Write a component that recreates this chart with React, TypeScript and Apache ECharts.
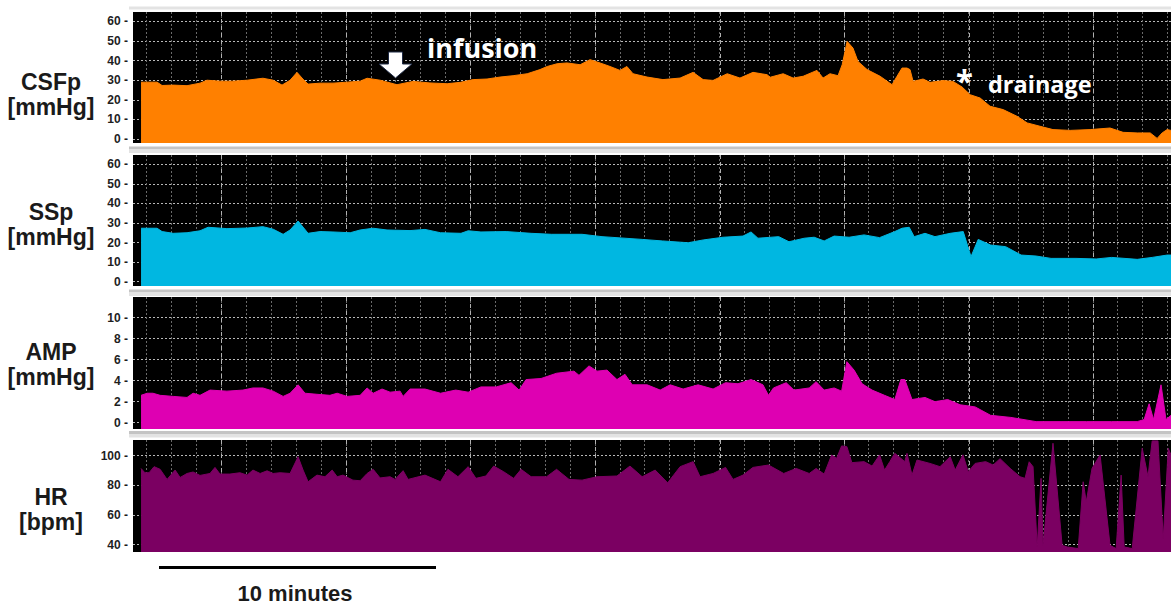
import React, { useEffect, useRef } from "react";
import * as echarts from "echarts";

// Time in minutes from the start of the recording, value per trace.
const csfT = [0, 0.58, 0.76, 1.16, 1.66, 2.13, 2.38, 2.85, 3.32, 3.83, 4.4, 4.77, 5.09, 5.38, 5.63, 5.85, 6.03, 6.46, 6.93, 7.44, 7.91, 8.16, 8.63, 9.24, 9.82, 10.43, 11.05, 11.52, 11.99, 12.49, 12.96, 13.43, 13.94, 14.4, 14.66, 15.02, 15.38, 15.85, 16.21, 16.57, 16.93, 17.29, 17.54, 17.76, 18.27, 18.84, 19.46, 19.93, 20.29, 20.65, 21.16, 21.62, 22.09, 22.6, 22.71, 23.18, 23.54, 23.9, 24.4, 24.62, 24.87, 25.16, 25.31, 25.49, 25.7, 25.88, 26.21, 26.68, 27.11, 27.29, 27.47, 27.65, 27.76, 27.87, 28.23, 28.48, 28.95, 29.31, 29.64, 29.93, 30.29, 30.65, 31.12, 31.62, 31.99, 32.45, 32.92, 33.54, 34.26, 34.98, 35.45, 35.96, 36.43, 36.68, 36.86, 37.04, 37.18];
const csfV = [29, 29, 27.3, 27.5, 27.2, 28.5, 30, 29.5, 29.5, 30, 31, 30, 27.5, 30, 34, 30.5, 28, 28.5, 28.5, 29, 29.5, 31, 30, 27.7, 29.4, 28.6, 28.2, 28.9, 30.3, 30.6, 31.6, 32.3, 33.3, 35.4, 37, 38.4, 38.8, 37.9, 40.5, 38.8, 37, 35, 37, 33.3, 31.6, 30.3, 31.1, 34, 30.3, 29.9, 33.3, 31.1, 34, 32.8, 31.5, 33.3, 31.1, 32, 35, 31.1, 33.3, 32.3, 37.9, 49.8, 46.4, 39.6, 35.4, 32, 27.7, 32, 36.2, 36.2, 35.4, 29.4, 30.6, 28.9, 29.8, 29.4, 26.5, 22.6, 20.9, 16.7, 15, 11.6, 8.2, 6.5, 4.8, 4.4, 4.8, 5.6, 3.4, 3.1, 3.1, 0.3, 3.1, 4.8, 4.4];

const ssT = [0, 0.58, 0.76, 1.16, 1.66, 2.13, 2.42, 3.1, 3.83, 4.4, 4.77, 5.13, 5.38, 5.67, 6.03, 6.46, 6.93, 7.55, 7.91, 8.38, 8.88, 9.71, 10.25, 10.81, 11.55, 11.81, 12.27, 13.18, 14.08, 14.82, 15.92, 16.64, 18.09, 18.83, 19.75, 20.29, 21.01, 21.73, 22.02, 22.27, 23.02, 23.39, 23.94, 24.3, 24.66, 25.02, 25.56, 26.1, 26.66, 27.21, 27.47, 27.73, 27.91, 28.3, 28.66, 29.21, 29.68, 29.96, 30.22, 30.67, 31.21, 31.77, 32.31, 32.85, 33.75, 34.48, 35.04, 35.96, 36.5, 37.04, 37.18];
const ssV = [27.3, 27.3, 25.6, 24.7, 25, 26, 27.8, 27.1, 27.4, 28.1, 26.8, 24.2, 26.4, 31, 24.7, 25.6, 25.4, 25, 26.4, 27.3, 26.4, 26.1, 26.7, 25, 24.7, 26, 25.4, 25.6, 24.7, 24.2, 24.2, 23, 21.6, 20.8, 19.9, 21.3, 22.7, 23.3, 25.4, 22.2, 23, 20.4, 22.2, 22.7, 20.8, 23.3, 22.7, 23.9, 22.5, 25.6, 27.3, 27.8, 23, 24.7, 23, 24.7, 25.6, 12.8, 21.6, 18.7, 17.9, 13.6, 13.1, 11.9, 11.9, 11.6, 12.4, 11.4, 12.4, 13.6, 13.6];

const ampT = [0, 0.22, 0.43, 0.69, 1.16, 1.66, 1.88, 2.13, 2.49, 3.1, 3.68, 4.04, 4.4, 4.77, 5.13, 5.38, 5.67, 5.92, 6.35, 6.82, 7.08, 7.44, 7.91, 8.16, 8.38, 8.7, 8.99, 9.35, 9.46, 9.71, 10.25, 10.81, 11.36, 11.81, 12.27, 12.82, 13.36, 13.65, 13.9, 14.44, 15, 15.63, 15.81, 16.17, 16.46, 16.82, 17.18, 17.47, 17.73, 18.27, 18.74, 19.1, 19.57, 20.11, 20.65, 21.1, 21.55, 22.02, 22.45, 22.65, 22.83, 23.29, 23.57, 24.12, 24.37, 24.66, 25.02, 25.29, 25.48, 25.74, 26.03, 26.39, 26.84, 27.21, 27.43, 27.57, 27.83, 28.3, 28.66, 29.12, 29.57, 30.11, 30.67, 31.4, 32.31, 33.21, 34.12, 35.04, 35.96, 36.21, 36.39, 36.55, 36.82, 37, 37.18];
const ampV = [2.6, 2.8, 2.8, 2.6, 2.5, 2.4, 2.8, 2.6, 3.1, 3, 3.1, 3.3, 3.3, 3, 2.5, 2.8, 3.6, 2.8, 2.7, 2.6, 2.8, 2.5, 2.6, 3.3, 2.8, 3.2, 2.9, 3, 2.5, 3.2, 3.2, 2.8, 3.1, 2.9, 3.4, 3.4, 3.8, 3.1, 4.1, 4.2, 4.7, 4.9, 4.5, 5.4, 4.9, 5, 4.1, 4.6, 3.6, 3.6, 3.1, 3.6, 3.2, 3.6, 3.2, 3.8, 3.7, 4.1, 3.6, 2.6, 3.3, 3.8, 3.1, 3.3, 3.9, 3.1, 3.3, 3, 5.8, 5, 3.7, 3.1, 2.6, 2.2, 4.1, 4.1, 2.2, 2.4, 2, 2.2, 1.7, 1.5, 0.7, 0.5, 0.1, 0.1, 0.1, 0.1, 0.1, 0.3, 1.8, 0.3, 3.6, 0.3, 0.7];

const hrT = [0, 0.14, 0.29, 0.47, 0.69, 0.94, 1.23, 1.41, 1.66, 1.88, 2.13, 2.49, 2.67, 2.85, 3.21, 3.57, 3.83, 4.04, 4.3, 4.55, 4.77, 5.02, 5.38, 5.67, 5.85, 6.03, 6.35, 6.64, 6.9, 7.08, 7.29, 7.65, 7.91, 8.16, 8.38, 8.63, 8.99, 9.17, 9.46, 9.64, 10.25, 10.81, 11.08, 11.44, 11.81, 12.09, 12.45, 12.73, 13.09, 13.45, 13.72, 14.08, 14.64, 15, 15.45, 15.92, 16.46, 17.18, 17.65, 18.09, 18.56, 19.01, 19.46, 19.93, 20.18, 20.65, 21.1, 21.37, 21.73, 22.09, 22.65, 23.2, 23.65, 24.12, 24.37, 24.66, 24.93, 25.11, 25.29, 25.48, 25.66, 26.1, 26.39, 26.66, 26.84, 27.03, 27.21, 27.57, 27.65, 27.83, 28.01, 28.48, 28.84, 29.21, 29.39, 29.67, 29.86, 30.11, 30.49, 30.76, 31.01, 31.37, 31.73, 31.91, 32.06, 32.2, 32.35, 32.49, 32.56, 32.92, 33.25, 33.43, 33.83, 34.01, 34.12, 34.33, 34.62, 34.98, 35.2, 35.38, 35.49, 35.78, 36.14, 36.35, 36.5, 36.71, 36.9, 37.08, 37.18];
const hrV = [91.4, 88.5, 88.5, 92.6, 90.8, 84, 90.3, 85.3, 88, 89, 86.7, 88, 92.1, 87.6, 87.6, 88.5, 86.9, 90.3, 88, 89.8, 88, 88.5, 88, 99.3, 90.3, 82.4, 86.9, 85.8, 90.3, 85.8, 86.9, 83.5, 83.1, 88, 90.8, 85, 85.8, 84, 89.9, 84, 86.9, 82.4, 90.8, 85.8, 92.6, 84.7, 86.3, 93, 89.2, 84.7, 90.8, 85.8, 85.8, 90.8, 84, 83.5, 85.8, 86.3, 93, 85.8, 90.3, 81.7, 92.6, 96, 85.8, 88, 92.1, 84, 86.9, 92.1, 93.7, 88, 91.4, 88, 91.4, 87.6, 100.5, 98.2, 106.6, 106.1, 95.3, 96, 93, 100.5, 90.3, 96, 101.6, 96, 101.6, 86.9, 97.1, 94.8, 92.6, 99.3, 90.3, 100.6, 89.2, 94.8, 96, 93.7, 98, 91.5, 85.8, 84.7, 95.9, 92.6, 38.4, 84.7, 39.5, 108.4, 39.5, 38.4, 37.3, 82.4, 68.9, 91.5, 100.5, 39.5, 37.3, 86.9, 38.4, 37.3, 105, 85.8, 110, 110, 44, 105, 100.5];

const traceNames = ["CSFp", "SSp", "AMP", "HR"];
const traceUnits = ["[mmHg]", "[mmHg]", "[mmHg]", "[bpm]"];
const traceColors = ["#FF8000", "#00B7E1", "#DE00B2", "#7B0062"];
const traceTimes = [csfT, ssT, ampT, hrT];
const traceValues = [csfV, ssV, ampV, hrV];
const yMin = [-2.04, -2.2, -0.6, 35];
const yMax = [64.8, 64.7, 11.95, 110.6];
const yStep = [10, 10, 2, 20];

const xMin = -0.29;
const xMax = 37.18;

// layout
const panelTop = [12, 155, 297, 440];
const panelHeight = [131, 131, 132, 112];
const titleY = [[82, 107], [212, 237], [351.5, 376.5], [497, 522]];

export default function App() {
  const ref = useRef<HTMLDivElement>(null);

  useEffect(() => {
    if (!ref.current) return;
    const chart = echarts.init(ref.current, null, { renderer: "svg" });

    const grid: any[] = [];
    const xAxis: any[] = [];
    const yAxis: any[] = [];
    const series: any[] = [];

    for (let i = 0; i < 4; i++) {
      const top = panelTop[i];
      const height = panelHeight[i];
      grid.push({ left: 133, right: 0, top, height, show: true, backgroundColor: "#000", borderWidth: 0 });
      grid.push({ left: 121.8, right: 0, top, height, show: false });
      grid.push({ left: 97.2, right: 0, top, height, show: false });
      const g = i * 3;
      xAxis.push({ gridIndex: g, type: "value", min: xMin, max: xMax, show: false });
      xAxis.push({
        gridIndex: g + 1, type: "value", min: 0, max: 42.14, interval: 1,
        axisLine: { show: false }, axisTick: { show: false }, axisLabel: { show: false },
        splitLine: { show: true, showMinLine: false, showMaxLine: false, lineStyle: { color: "#6a6a6a", type: [2, 2], width: 1 } },
      });
      xAxis.push({
        gridIndex: g + 2, type: "value", min: 0, max: 43.12, interval: 5,
        axisLine: { show: false }, axisTick: { show: false }, axisLabel: { show: false },
        splitLine: { show: true, showMinLine: false, showMaxLine: false, lineStyle: { color: "#b0b0b0", type: [4, 3], width: 1 } },
      });
      const step = yStep[i];
      yAxis.push({
        gridIndex: g, type: "value", min: yMin[i], max: yMax[i], minInterval: step, maxInterval: step,
        axisLine: { show: false }, axisTick: { show: false },
        axisLabel: {
          margin: 5, color: "#1e1e1e", fontWeight: "bold", fontSize: 12,
          fontFamily: "'Liberation Sans', Arial, sans-serif",
          formatter: (v: number) => (Math.abs(v / step - Math.round(v / step)) < 1e-6 ? `${v} -` : ""),
        },
        splitLine: { show: true, showMinLine: false, showMaxLine: false, lineStyle: { color: "#b8b8b8", type: [2, 2], width: 1 } },
      });
      yAxis.push({ gridIndex: g + 1, type: "value", min: 0, max: 1, show: false });
      yAxis.push({ gridIndex: g + 2, type: "value", min: 0, max: 1, show: false });

      const T = traceTimes[i];
      const V = traceValues[i];
      series.push({
        name: traceNames[i], type: "line", xAxisIndex: g, yAxisIndex: g,
        data: T.map((t, k) => [t, V[k]]),
        showSymbol: false, symbol: "none", z: 3,
        lineStyle: { width: 1, color: traceColors[i] },
        itemStyle: { color: traceColors[i] },
        areaStyle: { color: traceColors[i], opacity: 1, origin: "start" },
      });
    }

    const titleFont = "bold 23px 'Liberation Sans', Arial, sans-serif";
    const graphic: any[] = [];
    // separators between panels
    graphic.push({ type: "rect", shape: { x: 129, y: 6.5, width: 1042, height: 3 }, style: { fill: "#e3e3e3" } });
    [[146.5, 149.5], [289.5, 292.5], [431, 434]].forEach(([a, b]) => {
      graphic.push({ type: "rect", shape: { x: 129, y: a, width: 1042, height: 3 }, style: { fill: "#c4c4c4" } });
      graphic.push({ type: "rect", shape: { x: 129, y: b, width: 1042, height: 3.5 }, style: { fill: "#e3e3e3" } });
    });
    for (let i = 0; i < 4; i++) {
      graphic.push({ type: "text", x: 51, y: titleY[i][0], style: { text: traceNames[i], font: titleFont, fill: "#1a1a1a", textAlign: "center", textVerticalAlign: "middle" } });
      graphic.push({ type: "text", x: 51, y: titleY[i][1], style: { text: traceUnits[i], font: titleFont, fill: "#1a1a1a", textAlign: "center", textVerticalAlign: "middle" } });
    }
    // annotations
    graphic.push({
      type: "polygon", z: 100,
      shape: { points: [[388.5, 52], [402.5, 52], [402.5, 64], [412, 64], [395.5, 78], [379, 64], [388.5, 64]] },
      style: { fill: "#ffffff", stroke: "#1f2a44", lineWidth: 1 },
    });
    graphic.push({ type: "text", z: 100, x: 427, y: 47, style: { text: "infusion", font: "bold 27px 'Open Sans', sans-serif", fill: "#ffffff", textAlign: "left", textVerticalAlign: "middle" } });
    graphic.push({ type: "text", z: 100, x: 964.5, y: 80, style: { text: "*", font: "bold 31px 'Open Sans', sans-serif", fill: "#ffffff", textAlign: "center", textVerticalAlign: "middle" } });
    graphic.push({ type: "text", z: 100, x: 988, y: 84, style: { text: "drainage", font: "bold 23.5px 'Open Sans', sans-serif", fill: "#ffffff", textAlign: "left", textVerticalAlign: "middle" } });
    // time scale bar
    graphic.push({ type: "line", shape: { x1: 159, y1: 567.5, x2: 436, y2: 567.5 }, style: { stroke: "#000", lineWidth: 3 } });
    graphic.push({ type: "text", x: 295, y: 593, style: { text: "10 minutes", font: "bold 22px 'Liberation Sans', Arial, sans-serif", fill: "#1a1a1a", textAlign: "center", textVerticalAlign: "middle" } });

    chart.setOption({
      animation: false,
      backgroundColor: "#ffffff",
      grid, xAxis, yAxis, series, graphic,
    });
    return () => chart.dispose();
  }, []);

  return <div ref={ref} style={{ position: "absolute", left: 0, top: 0, width: 1171, height: 605 }} />;
}
